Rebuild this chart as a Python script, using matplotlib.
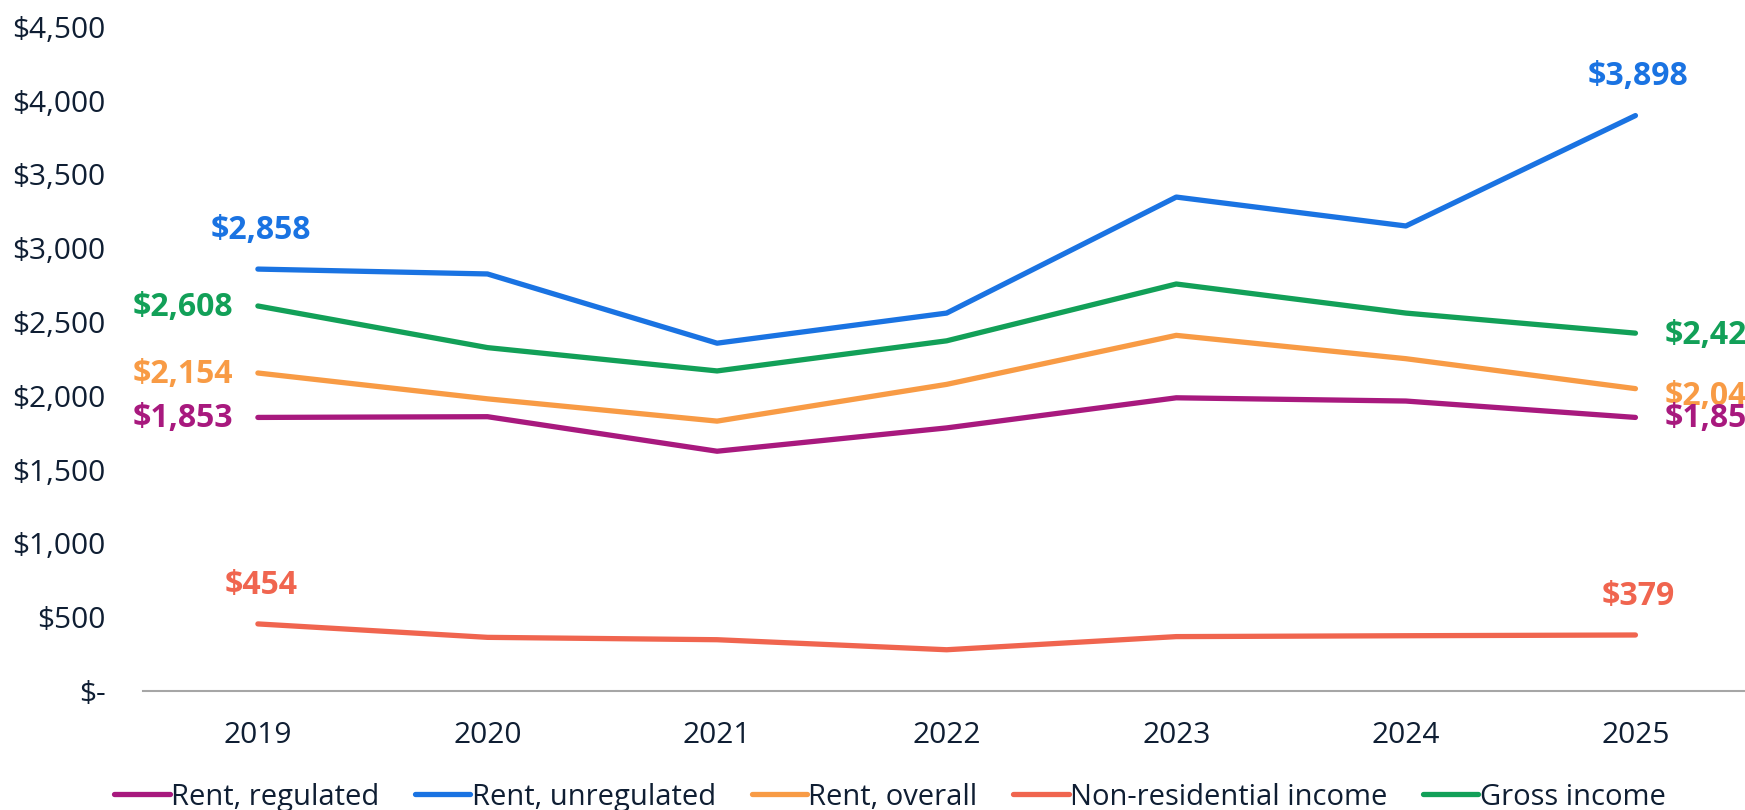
import matplotlib.pyplot as plt
import numpy as np

plt.rcParams['font.family'] = ['Open Sans', 'DejaVu Sans']

years = ['2019', '2020', '2021', '2022', '2023', '2024', '2025']
rent_regulated = [1853, 1858, 1624, 1782, 1986, 1964, 1853]
rent_unregulated = [2858, 2825, 2356, 2560, 3346, 3150, 3898]
rent_overall = [2154, 1979, 1828, 2077, 2409, 2251, 2048]
non_residential = [454, 363, 347, 279, 368, 374, 379]
gross_income = [2608, 2326, 2168, 2372, 2757, 2560, 2424]

series = [
    ('Rent, regulated', rent_regulated, '#A8197E'),
    ('Rent, unregulated', rent_unregulated, '#1A73E2'),
    ('Rent, overall', rent_overall, '#F89B45'),
    ('Non-residential income', non_residential, '#F0654F'),
    ('Gross income', gross_income, '#12A058'),
]

text_col = '#0F1E33'

fig = plt.figure(figsize=(17.45, 8.1), dpi=100)
ax = fig.add_axes([0.082, 0.147, 0.921, 0.820])

x = np.arange(len(years))
for name, vals, col in series:
    ax.plot(x, vals, color=col, lw=3.8, solid_capstyle='round', label=name)

ax.set_xlim(-0.5, 6.5)
ax.set_ylim(0, 4500)
ax.set_yticks(np.arange(0, 4501, 500))
ax.set_yticklabels(['$-'] + ['${:,}'.format(v) for v in range(500, 4501, 500)])
ax.set_xticks(x)
ax.set_xticklabels(years)
ax.tick_params(axis='both', length=0, labelsize=21.5, colors=text_col)
ax.tick_params(axis='x', pad=22)
ax.tick_params(axis='y', pad=27)

for s in ['top', 'right', 'left']:
    ax.spines[s].set_visible(False)
ax.spines['bottom'].set_color('#A6A6A6')
ax.spines['bottom'].set_linewidth(1.5)


def money(v):
    return '${:,}'.format(v)


lab_kw = dict(textcoords='offset points', fontsize=23, fontweight='bold')

# labels above the line for unregulated rent and non-residential income
for vals, col in [(rent_unregulated, '#1A73E2'), (non_residential, '#F0654F')]:
    for i in (0, 6):
        ax.annotate(money(vals[i]), (x[i], vals[i]), xytext=(2, 28),
                    ha='center', va='center', color=col, **lab_kw)

# labels beside the line ends for the other three (right-hand ones nudged apart)
for vals, col, dy in [(gross_income, '#12A058', -2), (rent_overall, '#F89B45', -6),
                      (rent_regulated, '#A8197E', -1)]:
    ax.annotate(money(vals[0]), (x[0], vals[0]), xytext=(-18, -1),
                ha='right', va='center', color=col, **lab_kw)
    ax.annotate(money(vals[6]), (x[6], vals[6]), xytext=(21, dy),
                ha='left', va='center', color=col, annotation_clip=False,
                **lab_kw)

leg = fig.legend(loc='center', bbox_to_anchor=(0.51, 0.016), ncol=5,
                 frameon=False, fontsize=21, handlelength=1.9,
                 handletextpad=0.05, columnspacing=1.22)
for t in leg.get_texts():
    t.set_color(text_col)

fig.savefig('out.png', dpi=100)
